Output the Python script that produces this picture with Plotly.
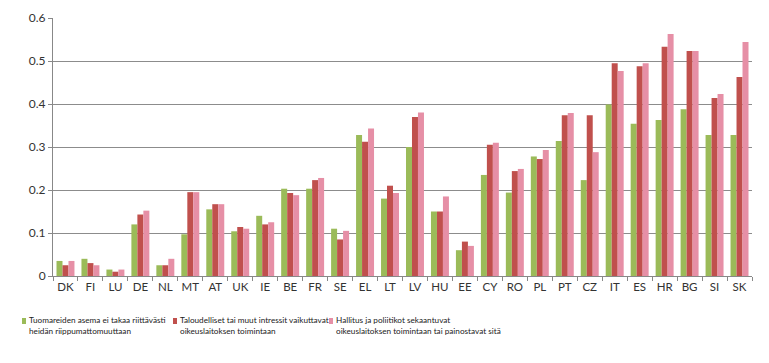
import plotly.graph_objects as go

countries = ["DK", "FI", "LU", "DE", "NL", "MT", "AT", "UK", "IE", "BE", "FR", "SE", "EL", "LT",
             "LV", "HU", "EE", "CY", "RO", "PL", "PT", "CZ", "IT", "ES", "HR", "BG", "SI", "SK"]

s1_name = "Tuomareiden asema ei takaa riittävästi<br>heidän riippumattomuuttaan"
s2_name = "Taloudelliset tai muut intressit vaikuttavat<br>oikeuslaitoksen toimintaan"
s3_name = "Hallitus ja poliitikot sekaantuvat<br>oikeuslaitoksen toimintaan tai painostavat sitä"

s1 = [0.035, 0.040, 0.015, 0.120, 0.025, 0.097, 0.155, 0.104, 0.140, 0.203, 0.203, 0.110, 0.328, 0.180,
      0.300, 0.150, 0.060, 0.235, 0.194, 0.278, 0.314, 0.223, 0.399, 0.354, 0.363, 0.388, 0.328, 0.328]
s2 = [0.025, 0.030, 0.010, 0.143, 0.025, 0.195, 0.167, 0.114, 0.120, 0.193, 0.223, 0.085, 0.312, 0.210,
      0.370, 0.150, 0.080, 0.305, 0.244, 0.272, 0.374, 0.374, 0.495, 0.488, 0.533, 0.523, 0.414, 0.463]
s3 = [0.035, 0.025, 0.015, 0.152, 0.040, 0.195, 0.167, 0.110, 0.125, 0.188, 0.228, 0.105, 0.343, 0.193,
      0.380, 0.185, 0.070, 0.310, 0.249, 0.293, 0.379, 0.288, 0.477, 0.495, 0.563, 0.523, 0.423, 0.544]

tick_vals = [0, 0.1, 0.2, 0.3, 0.4, 0.5, 0.6]
tick_text = ["0", "0.1", "0.2", "0.3", "0.4", "0.5", "0.6"]

colors = ["#9BBB59", "#C0504D", "#E68FA6"]
names = [s1_name, s2_name, s3_name]

W, H = 769, 363
ML, MR, MT, MB = 53, 17, 18, 87
PW, PH = W - ML - MR, H - MT - MB

def px_x(px):
    return (px - ML) / PW

def px_y(py):
    return (H - MB - py) / PH

fig = go.Figure()
for name, vals, c in zip(names, [s1, s2, s3], colors):
    fig.add_trace(go.Bar(x=countries, y=vals, name=name, marker_color=c, marker_line_width=0))

# custom legend
legend_x = [22, 173, 329]
for lx, name, c in zip(legend_x, names, colors):
    fig.add_shape(type="rect", xref="paper", yref="paper",
                  x0=px_x(lx), x1=px_x(lx + 4), y0=px_y(324), y1=px_y(318),
                  fillcolor=c, line_width=0)
    fig.add_annotation(xref="paper", yref="paper", x=px_x(lx + 5), y=px_y(313),
                       xanchor="left", yanchor="top", align="left", showarrow=False,
                       text=name,
                       font=dict(family="Lato, sans-serif", size=8.2, color="#222222"))

fig.update_layout(
    width=W, height=H,
    margin=dict(l=ML, r=MR, t=MT, b=MB, autoexpand=False),
    paper_bgcolor="white", plot_bgcolor="white",
    barmode="group", bargap=0.28, bargroupgap=0,
    font=dict(family="Lato, DejaVu Sans, sans-serif", size=12, color="#333333"),
    showlegend=False,
)
fig.update_xaxes(showline=True, linecolor="#888888", linewidth=1, tickangle=0,
                 ticks="outside", tickson="boundaries", ticklen=4, tickcolor="#888888",
                 tickfont=dict(size=11.5, color="#333333"), showgrid=False, automargin=False)
fig.update_yaxes(range=[0, 0.6], tickvals=tick_vals, ticktext=tick_text,
                 showgrid=True, gridcolor="#8c8c8c", gridwidth=1,
                 showline=True, linecolor="#888888", linewidth=1,
                 ticks="outside", ticklen=4, tickcolor="#888888", automargin=False,
                 tickfont=dict(size=12, color="#333333"), zeroline=False)

fig.write_html("out.html", config={"displayModeBar": False},
               post_script="document.body.style.margin='0';")
